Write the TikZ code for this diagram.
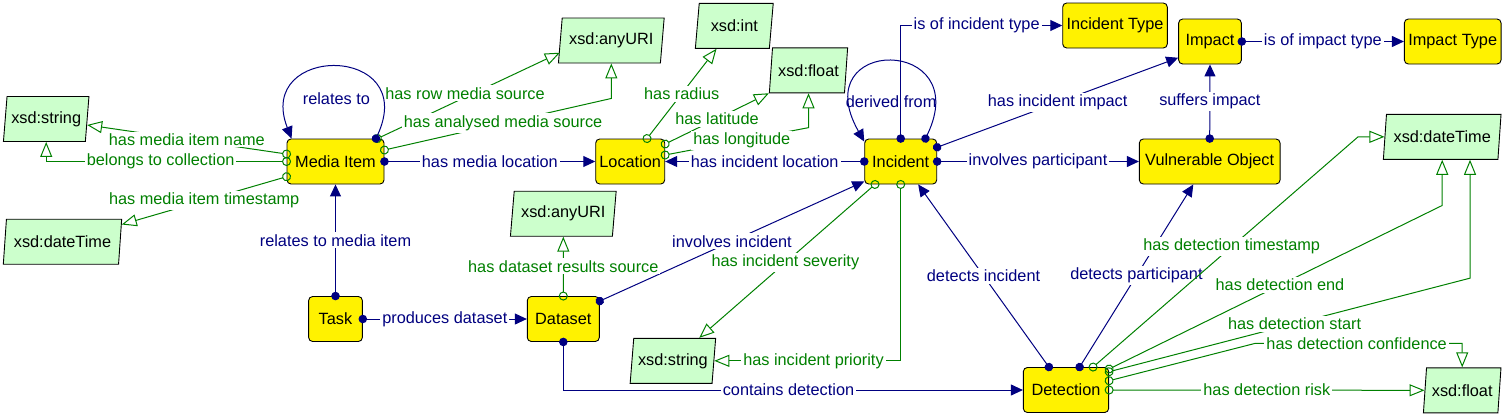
\documentclass[tikz,border=0pt]{standalone}
\usepackage{fontspec}
\setmainfont{Liberation Sans}
\usetikzlibrary{arrows.meta,shapes.geometric}
\definecolor{navy}{RGB}{0,0,128}
\definecolor{dgreen}{RGB}{0,128,0}
\definecolor{dtgreen}{RGB}{204,255,204}
\tikzset{
  cls/.style={draw=black, line width=0.9pt, fill=yellow, rounded corners=4pt,
    minimum height=45pt, inner sep=2pt},
  dtype/.style={trapezium, trapezium left angle=80, trapezium right angle=100,
    trapezium stretches=true, draw=black, line width=0.9pt, fill=dtgreen,
    minimum height=45pt, inner sep=2pt},
  oprop/.style={draw=navy, line width=1pt,
    {Circle[length=8.5pt,sep=-4.25pt]}-{Triangle[length=12pt,width=11pt]}},
  dprop/.style={draw=dgreen, line width=1pt,
    {Circle[open,length=9pt,sep=-4.5pt]}-{Triangle[open,length=15pt,width=12pt]}},
  olbl/.style={fill=white, text=navy, inner sep=2pt},
  dlbl/.style={fill=white, text=dgreen, inner sep=2pt},
}
\begin{document}
\begin{tikzpicture}[x=1pt,y=1pt,font=\fontsize{16.3}{19}\selectfont]
\useasboundingbox (0,0) rectangle (1504,-416);

\node[cls, minimum width=97pt]    (mitem)  at (335.5,-161.5) {Media Item};
\node[cls, minimum width=69pt]    (loc)    at (630.2,-161.5) {Location};
\node[cls, minimum width=72pt]    (incid)  at (900.7,-161.5) {Incident};
\node[cls, minimum width=104.6pt] (itype)  at (1115,-25.5)   {Incident Type};
\node[cls, minimum width=62.7pt]  (impact) at (1210,-41.5)   {Impact};
\node[cls, minimum width=96.7pt]  (imtype) at (1452.7,-41.5) {Impact Type};
\node[cls, minimum width=140.7pt] (vobj)   at (1209.7,-161.5) {Vulnerable Object};
\node[cls, minimum width=53.7pt]  (task)   at (335.5,-319)   {Task};
\node[cls, minimum width=72pt]    (dset)   at (563.3,-319)   {Dataset};
\node[cls, minimum width=85.3pt]  (detect) at (1066,-390)    {Detection};

\node[dtype, minimum width=85.7pt]  (strA) at (46.2,-119)    {xsd:string};
\node[dtype, minimum width=118.4pt] (dtA)  at (62.5,-241.7)  {xsd:dateTime};
\node[dtype, minimum width=106pt]   (uriA) at (611.3,-40.5)  {xsd:anyURI};
\node[dtype, minimum width=78pt]    (intA) at (734.3,-25.8)  {xsd:int};
\node[dtype, minimum width=78.4pt]  (fltA) at (808.5,-70.3)  {xsd:float};
\node[dtype, minimum width=106pt]   (uriB) at (563.3,-213.7) {xsd:anyURI};
\node[dtype, minimum width=85.7pt]  (strB) at (672.9,-360.8) {xsd:string};
\node[dtype, minimum width=117.7pt] (dtB)  at (1442.2,-136.8) {xsd:dateTime};
\node[dtype, minimum width=77.7pt]  (fltB) at (1462.2,-390.3) {xsd:float};

\draw[dprop] ([yshift=7.5pt]mitem.west) -- (strA) node[dlbl,pos=0.5] {has media item name};
\draw[dprop] (mitem.west) -| (strA.south) node[dlbl,pos=0.262] {belongs to collection};
\draw[dprop] ([yshift=-15.2pt]mitem.west) -- (dtA) node[dlbl,pos=0.5] {has media item timestamp};
\draw[dprop] ([xshift=-7pt]mitem.north east) -- ([yshift=-12.2pt]uriA.west) node[dlbl,pos=0.48,yshift=4pt] {has row media source};
\draw[dprop] ([yshift=11.5pt]mitem.east) -- ([yshift=-35pt]uriA.south) node[dlbl,pos=0.523] {has analysed media source} -- (uriA.south);
\draw[dprop] ([xshift=16.8pt]loc.north) -- (intA) node[dlbl,pos=0.5] {has radius};
\draw[dprop] ([yshift=17.5pt]loc.east) -- (fltA.bottom left corner) node[dlbl,pos=0.5] {has latitude};
\draw[dprop] ([yshift=6.5pt]loc.east) -- ([yshift=-34.4pt]fltA.south) node[dlbl,pos=0.535] {has longitude} -- (fltA.south);

\draw[oprop] ([xshift=-8.5pt]mitem.north east) .. controls +(44,95) and +(-37,95) .. ([xshift=5pt]mitem.north west) node[olbl,fill=none,pos=0.5,yshift=-31.5pt] {relates to};
\draw[oprop] (mitem.east) -- (loc.west) node[olbl,pos=0.5] {has media location};
\draw[oprop] (task.north) -- (mitem.south) node[olbl,pos=0.5] {relates to media item};
\draw[oprop] (task.east) -- (dset.west) node[olbl,pos=0.5] {produces dataset};
\draw[oprop] (incid.west) -- (loc.east) node[olbl,pos=0.5] {has incident location};
\draw[oprop] ([yshift=-5pt]dset.north east) -- ([yshift=3pt]incid.south west) node[olbl,pos=0.5] {involves incident};
\draw[dprop] (dset.north) -- (uriB.south) node[dlbl,pos=0.5] {has dataset results source};
\draw[dprop] ([xshift=-25.7pt]incid.south) -- (strB) node[dlbl,pos=0.51] {has incident severity};
\draw[dprop] (incid.south) |- (strB.east) node[dlbl,pos=0.734] {has incident priority};

\draw[oprop] ([xshift=-11.7pt]incid.north east) .. controls +(50,103) and +(-60,106) .. ([yshift=-3pt]incid.north west) node[olbl,fill=none,pos=0.5,yshift=-40pt] {derived from};
\draw[oprop] (incid.north) |- (itype.west) node[olbl,pos=0.735] {is of incident type};
\draw[oprop] ([yshift=-8.7pt]incid.north east) -- ([yshift=6.7pt]impact.south west) node[olbl,pos=0.5] {has incident impact};
\draw[oprop] (incid.east) -- (vobj.west) node[olbl,pos=0.5] {involves participant};
\draw[oprop] (vobj.north) -- (impact.south) node[olbl,pos=0.5] {suffers impact};
\draw[oprop] (impact.east) -- (imtype.west) node[olbl,pos=0.5] {is of impact type};
\draw[oprop] (dset.south) |- (detect.west) node[olbl,pos=0.745] {contains detection};

\draw[oprop] ([xshift=26pt]detect.north west) -- ([xshift=-19pt]incid.south east) node[olbl,pos=0.5] {detects incident};
\draw[oprop] ([xshift=56.7pt]detect.north west) -- ([xshift=-16.4pt]vobj.south) node[olbl,pos=0.5] {detects participant};
\draw[dprop] ([xshift=-16pt]detect.north east) -- ([xshift=-26.4pt]dtB.west) node[dlbl,pos=0.523] {has detection timestamp} -- (dtB.west);
\draw[dprop] ([yshift=21pt]detect.east) -- ([yshift=-45.7pt]dtB.south) node[dlbl,pos=0.513] {has detection end} -- (dtB.south);
\draw[dprop] ([yshift=18.3pt]detect.east) -- ([xshift=27.8pt,yshift=-118.4pt]dtB.south) node[dlbl,pos=0.514] {has detection start} -- ([xshift=27.8pt]dtB.south);
\draw[dprop] ([yshift=9.3pt]detect.east) -- ([xshift=-207pt,yshift=24pt]fltB.north) -| (fltB.north) node[dlbl,pos=0.245] {has detection confidence};
\draw[dprop] (detect.east) -- (fltB.west) node[dlbl,pos=0.5] {has detection risk};
\end{tikzpicture}
\end{document}
